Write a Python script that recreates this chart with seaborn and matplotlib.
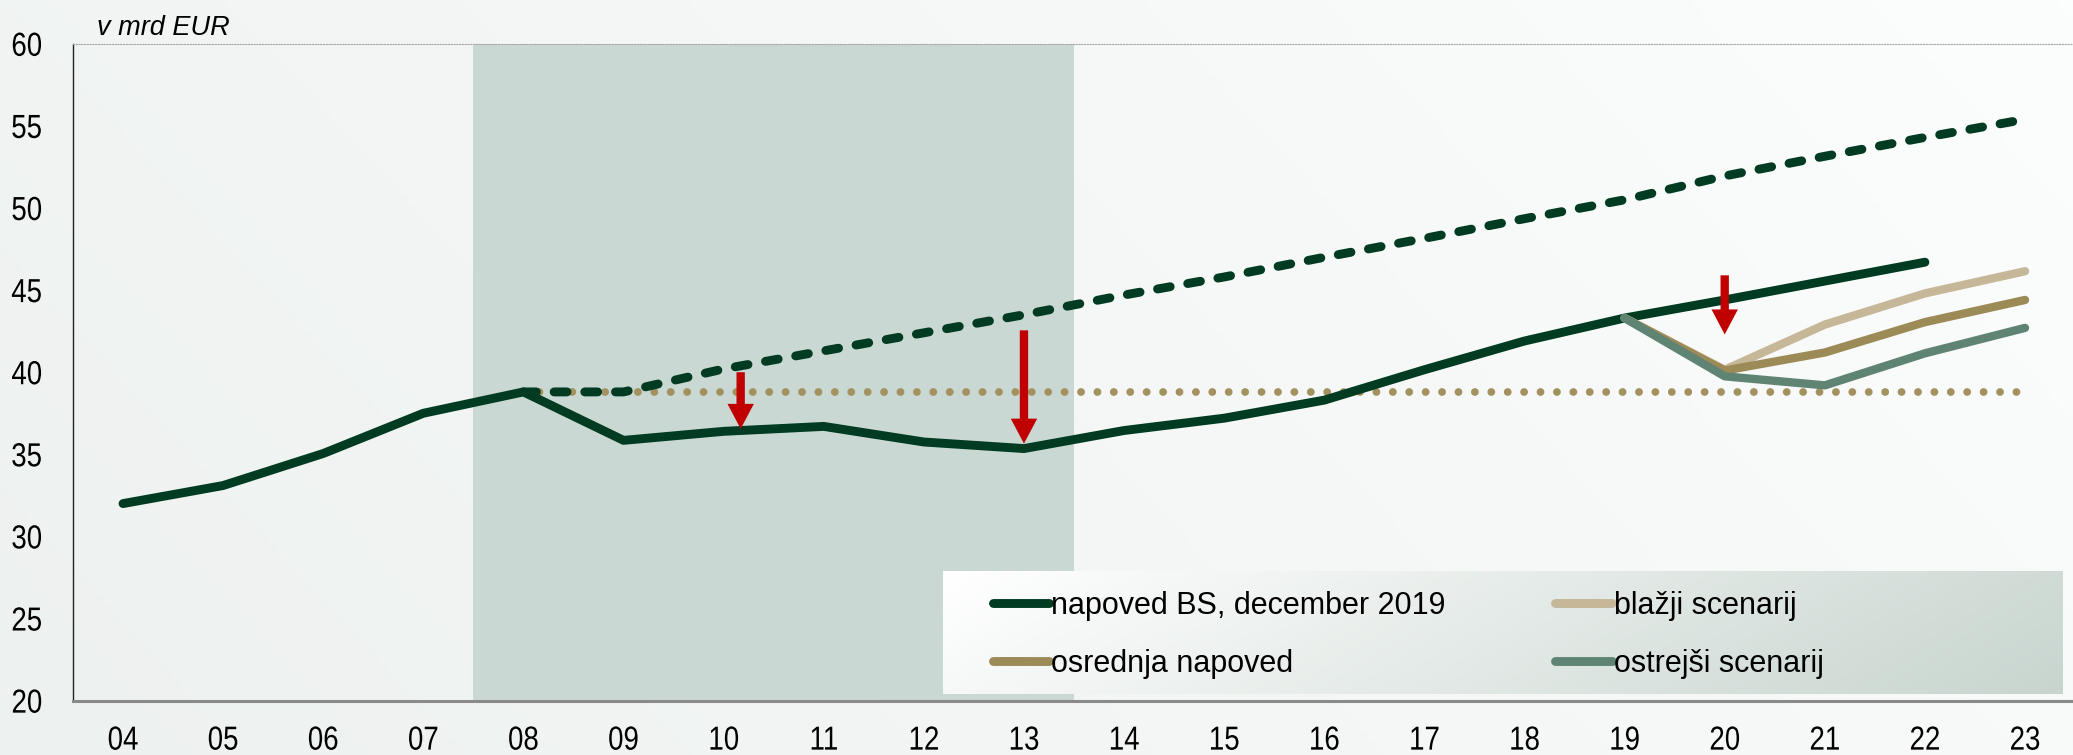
import numpy as np
import matplotlib
matplotlib.use("Agg")
import matplotlib.pyplot as plt
import seaborn as sns
from matplotlib.colors import LinearSegmentedColormap
from matplotlib.lines import Line2D
from matplotlib.patheffects import AbstractPathEffect
from matplotlib.transforms import Affine2D

# --- data (v mrd EUR) ---
years = ["04", "05", "06", "07", "08", "09", "10", "11", "12", "13",
         "14", "15", "16", "17", "18", "19", "20", "21", "22", "23"]

napoved_bs = [32.0, 33.1, 35.05, 37.5, 38.8, 35.85, 36.4, 36.7, 35.75, 35.35,
              36.45, 37.2, 38.3, 40.15, 41.9, 43.3, 44.4, 45.55, 46.7]   # 04..22
trend = [38.8, 38.8, 40.2, 41.3, 42.4, 43.5, 44.7, 45.8, 47.0, 48.15,
         49.35, 50.5, 51.95, 53.15, 54.3, 55.4]                           # 08..23
trend_start = "08"
flat_level = 38.8                                                         # 08..23
flat_start, flat_end = "08", "23"

scen_years = ["19", "20", "21", "22", "23"]
osrednja = [43.3, 40.1, 41.2, 43.05, 44.4]
blazji = [43.3, 40.15, 42.9, 44.8, 46.15]
ostrejsi = [43.3, 39.75, 39.2, 41.15, 42.7]

# red arrows: (year position, y from, y to)
arrows = [(6.17, 40.0, 36.55), (9.0, 42.55, 35.65), (16.0, 45.9, 42.3)]

shade_from, shade_to = "08", "13"

C_MAIN = "#003b22"
C_BLAZJI = "#c5b797"
C_OSR = "#9c8a57"
C_OSTR = "#5f8474"
C_DOT = "#a39160"
C_SHADE = "#cad8d3"
C_RED = "#c00000"


class Condense(AbstractPathEffect):
    """squeeze text horizontally (narrow font look)"""
    def __init__(self, sx=0.86, anchor="center"):
        super().__init__()
        self.sx = sx
        self.anchor = anchor

    def draw_path(self, renderer, gc, tpath, affine, rgbFace=None):
        ext = affine.transform_path(tpath).get_extents()
        cx = {"left": ext.x0, "right": ext.x1}.get(self.anchor, (ext.x0 + ext.x1) / 2)
        new = affine + Affine2D().translate(-cx, 0).scale(self.sx, 1).translate(cx, 0)
        renderer.draw_path(gc, tpath, new, rgbFace)


sns.set_style("white")
plt.rcParams["font.family"] = ["Liberation Sans", "DejaVu Sans"]
plt.rcParams["text.color"] = "black"
plt.rcParams["xtick.color"] = "black"
plt.rcParams["ytick.color"] = "black"

fig = plt.figure(figsize=(20.73, 7.55), dpi=100)

# soft background gradient
bg = fig.add_axes([0, 0, 1, 1], zorder=-10)
gx, gy = np.meshgrid(np.linspace(0, 1, 300), np.linspace(0, 1, 100))
bg_cmap = LinearSegmentedColormap.from_list("bg", ["#edf1ef", "#fcfdfd"])
bg.imshow(0.75 * gx + 0.25 * gy, cmap=bg_cmap, aspect="auto", origin="lower", extent=[0, 1, 0, 1])
bg.axis("off")

ax = fig.add_axes([0.0352, 0.072, 0.9658, 0.870])
ax.set_facecolor("none")

idx = {y: i for i, y in enumerate(years)}
x_bs = np.arange(len(napoved_bs))
x_trend = np.arange(idx[trend_start], idx[trend_start] + len(trend))
x_flat = np.arange(idx[flat_start], idx[flat_end] + 1)
x_scen = np.array([idx[y] for y in scen_years])

ax.axvspan(idx[shade_from] - 0.5, idx[shade_to] + 0.5, color=C_SHADE, zorder=0, lw=0)

LW = 6.4

sns.lineplot(x=x_flat, y=[flat_level] * len(x_flat), ax=ax, color=C_DOT, linewidth=5.6)
dot = ax.lines[-1]
dot.set_dashes([0.01, 2.1])
dot.set_dash_capstyle("round")

sns.lineplot(x=x_trend, y=trend, ax=ax, color=C_MAIN, linewidth=LW)
dash = ax.lines[-1]
dash.set_dashes([1.45, 2.0])
dash.set_dash_capstyle("round")

sns.lineplot(x=x_bs, y=napoved_bs, ax=ax, color=C_MAIN, linewidth=LW,
             solid_capstyle="round", solid_joinstyle="round")
for vals, col in [(blazji, C_BLAZJI), (osrednja, C_OSR), (ostrejsi, C_OSTR)]:
    sns.lineplot(x=x_scen, y=vals, ax=ax, color=col, linewidth=LW - 0.4,
                 solid_capstyle="round", solid_joinstyle="round")

for xa, y0, y1 in arrows:
    ax.annotate("", xy=(xa, y1), xytext=(xa, y0),
                arrowprops=dict(arrowstyle="simple,head_length=18,head_width=19,tail_width=6",
                                mutation_scale=1, color=C_RED, lw=0, shrinkA=0, shrinkB=0),
                zorder=6)

ax.set_xlim(-0.5, len(years) - 0.5)
ax.set_ylim(20, 60)
ax.set_xlabel("")
ax.set_ylabel("")

# ticks at category borders, labels at centers
ax.set_xticks(np.arange(-0.5, len(years)), labels=[])
ax.set_xticks(np.arange(len(years)), labels=years, minor=True)
ax.tick_params(axis="x", which="major", direction="out", length=10, width=1, color="#333333")
ax.tick_params(axis="x", which="minor", length=0, pad=18, labelsize=24)
ax.set_yticks(np.arange(20, 61, 5))
ax.tick_params(axis="y", direction="out", length=8, width=1, color="#333333", pad=14, labelsize=24)
for t in ax.get_xticklabels(minor=True):
    t.set_path_effects([Condense(0.83, "center")])
for t in ax.get_yticklabels():
    t.set_path_effects([Condense(0.83, "right")])

ax.spines["right"].set_visible(False)
ax.spines["left"].set_color("#222222")
ax.spines["left"].set_linewidth(1)
ax.spines["bottom"].set_color("#8a8a8a")
ax.spines["bottom"].set_linewidth(2.2)
ax.spines["top"].set_color("#a8a8a8")
ax.spines["top"].set_linewidth(0.8)
ax.spines["top"].set_linestyle((0, (1, 1.5)))

ax.text(0.012, 1.004, "v mrd EUR", transform=ax.transAxes, fontsize=19.5, style="italic",
        ha="left", va="bottom")

# legend panel with gradient
lg = LinearSegmentedColormap.from_list("lg", ["#ffffff", "#c8d5cf"])
lx0, lx1, ly0, ly1 = 0.4346, 0.994, 0.0102, 0.196
lgx, lgy = np.meshgrid(np.linspace(0, 1, 256), np.linspace(0, 1, 32))
ax.imshow(0.85 * lgx + 0.15 * lgy, cmap=lg, aspect="auto",
          extent=[lx0, lx1, ly0, ly1], transform=ax.transAxes, zorder=4)
ax.set_xlim(-0.5, len(years) - 0.5)
ax.set_ylim(20, 60)

handles = [
    Line2D([], [], color=C_MAIN, lw=LW, solid_capstyle="round"),
    Line2D([], [], color=C_OSR, lw=LW, solid_capstyle="round"),
    Line2D([], [], color=C_BLAZJI, lw=LW, solid_capstyle="round"),
    Line2D([], [], color=C_OSTR, lw=LW, solid_capstyle="round"),
]
labels = ["napoved BS, december 2019", "osrednja napoved", "blažji scenarij", "ostrejši scenarij"]
leg = ax.legend(handles, labels, ncol=2, frameon=False, loc="center left",
                bbox_to_anchor=(0.4595, 0.1), fontsize=22, handlelength=1.85,
                handletextpad=0.05, columnspacing=3.6, labelspacing=0.92,
                borderaxespad=0, borderpad=0, labelcolor="black")
leg.set_zorder(5)

fig.savefig("out.png", dpi=100)
